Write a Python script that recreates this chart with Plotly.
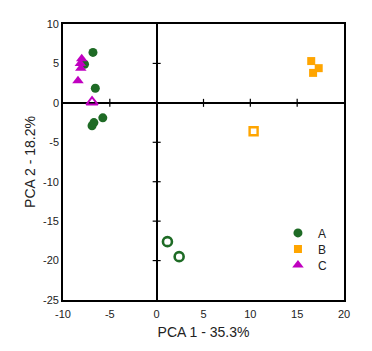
import plotly.graph_objects as go

# Data
a_x = [-6.8, -7.7, -6.55, -5.75, -6.9, -6.7]
a_y = [6.4, 4.9, 1.85, -1.9, -2.9, -2.5]
a_open_x = [1.15, 2.4]
a_open_y = [-17.6, -19.5]

b_x = [16.5, 17.3, 16.7]
b_y = [5.3, 4.4, 3.8]
b_open_x = [10.35]
b_open_y = [-3.6]

c_x = [-8.0, -8.15, -8.1, -8.4]
c_y = [5.6, 5.0, 4.4, 2.8]
c_open_x = [-6.9]
c_open_y = [0.1]

x_ticks = [-10, -5, 0, 5, 10, 15, 20]
y_ticks = [-25, -20, -15, -10, -5, 0, 5, 10]
x_tick_text = [str(t) for t in x_ticks]
y_tick_text = [str(t) for t in y_ticks]

GREEN = "#1e6b25"
ORANGE = "#ffa500"
MAGENTA = "#c000c0"

fig = go.Figure()
fig.add_trace(go.Scatter(x=a_x, y=a_y, mode="markers", name="A", legend="legend",
                         marker=dict(symbol="circle", size=9, color=GREEN)))
fig.add_trace(go.Scatter(x=b_x, y=b_y, mode="markers", name="B", legend="legend2",
                         marker=dict(symbol="square", size=8, color=ORANGE)))
fig.add_trace(go.Scatter(x=c_x, y=c_y, mode="markers", name="C", legend="legend3",
                         marker=dict(symbol="triangle-up", size=10, color=MAGENTA)))
fig.add_trace(go.Scatter(x=a_open_x, y=a_open_y, mode="markers", showlegend=False,
                         marker=dict(symbol="circle-open", size=9, color=GREEN,
                                     line=dict(width=2.6, color=GREEN))))
fig.add_trace(go.Scatter(x=b_open_x, y=b_open_y, mode="markers", showlegend=False,
                         marker=dict(symbol="square-open", size=8, color=ORANGE,
                                     line=dict(width=2.4, color=ORANGE))))
fig.add_trace(go.Scatter(x=c_open_x, y=c_open_y, mode="markers", showlegend=False,
                         marker=dict(symbol="triangle-up-open", size=10, color=MAGENTA,
                                     line=dict(width=2, color=MAGENTA))))

shapes = []
for t in x_ticks:
    if t in (-10, 0, 20):
        continue
    shapes.append(dict(type="line", xref="x", yref="y", ysizemode="pixel", yanchor=0,
                       x0=t, x1=t, y0=-4, y1=4, line=dict(color="black", width=1.2)))
for t in y_ticks:
    if t in (-25, 0, 10):
        continue
    shapes.append(dict(type="line", xref="x", yref="y", xsizemode="pixel", xanchor=0,
                       y0=t, y1=t, x0=-4, x1=4, line=dict(color="black", width=1.2)))

font_family = "Liberation Sans, Arial, sans-serif"


def leg(ypos):
    return dict(x=0.765, y=ypos, xanchor="left", yanchor="middle",
                bgcolor="rgba(0,0,0,0)", font=dict(size=12, color="#222222"),
                itemwidth=30)


fig.update_layout(
    width=372, height=351,
    margin=dict(l=63, r=28, t=24, b=51),
    paper_bgcolor="white", plot_bgcolor="white",
    font=dict(family=font_family, color="#222222", size=11),
    showlegend=True,
    legend=leg(0.243),
    legend2=leg(0.185),
    legend3=leg(0.127),
    shapes=shapes,
    xaxis=dict(range=[-10, 20], tickvals=x_ticks, ticktext=x_tick_text, ticks="",
               showgrid=False, ticklabelstandoff=3,
               zeroline=True, zerolinecolor="black", zerolinewidth=1.6,
               showline=True, linecolor="black", linewidth=1.6, mirror=True,
               title=dict(text="PCA 1 - 35.3%", font=dict(size=14), standoff=8),
               tickfont=dict(size=11)),
    yaxis=dict(range=[-25, 10], tickvals=y_ticks, ticktext=y_tick_text, ticks="",
               showgrid=False,
               zeroline=True, zerolinecolor="black", zerolinewidth=1.6,
               showline=True, linecolor="black", linewidth=1.6, mirror=True,
               title=dict(text="PCA 2 - 18.2%", font=dict(size=14), standoff=4),
               tickfont=dict(size=11)),
)

fig.write_html("out.html")
